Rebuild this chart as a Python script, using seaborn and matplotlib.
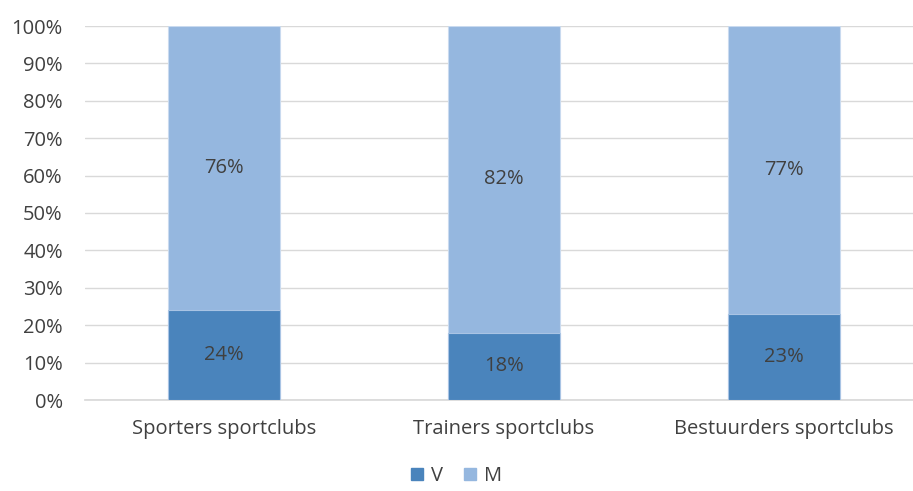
import matplotlib
matplotlib.use("Agg")
import matplotlib.pyplot as plt
import seaborn as sns
import pandas as pd
from matplotlib.patches import Patch

categories = ["Sporters sportclubs", "Trainers sportclubs", "Bestuurders sportclubs"]
v_values = [24, 18, 23]
m_values = [76, 82, 77]
y_ticks = [0, 10, 20, 30, 40, 50, 60, 70, 80, 90, 100]

sns.set_theme(style="white")
plt.rcParams['font.family'] = ['Open Sans', 'DejaVu Sans']

col_v = "#4A84BC"
col_m = "#95B7DF"
txt = "#404040"
fs = 14.5

df = pd.DataFrame({"cat": categories, "V": v_values, "M": m_values})
df["total"] = df["V"] + df["M"]

fig = plt.figure(figsize=(9.13, 4.91), dpi=100)
ax = fig.add_axes([85/913, 91/491, 828/913, 374/491])

sns.barplot(data=df, x="cat", y="total", color=col_m, width=0.40, ax=ax,
            saturation=1, edgecolor="#C9DAEF", linewidth=0.8, zorder=2)
sns.barplot(data=df, x="cat", y="V", color=col_v, width=0.40, ax=ax,
            saturation=1, edgecolor="#A9C4E4", linewidth=0.8, zorder=3)

for i, (v, m) in enumerate(zip(v_values, m_values)):
    ax.text(i, v / 2, f"{v}%", ha="center", va="center", fontsize=fs, color=txt, zorder=4)
    ax.text(i, v + m / 2, f"{m}%", ha="center", va="center", fontsize=fs, color=txt, zorder=4)

ax.set_xlim(-0.496, 2.46)
ax.set_ylim(0, 100)
ax.set_yticks(y_ticks)
ax.set_yticklabels([f"{t}%" for t in y_ticks], fontsize=fs, color=txt)
ax.set_xticks(range(len(categories)))
ax.set_xticklabels(categories, fontsize=fs, color=txt)
ax.tick_params(axis="x", length=0, pad=14)
ax.tick_params(axis="y", length=0, pad=16)
ax.set_xlabel("")
ax.set_ylabel("")
ax.yaxis.grid(True, color="#D9D9D9", linewidth=1)
ax.set_axisbelow(True)
for s in ["top", "right", "left"]:
    ax.spines[s].set_visible(False)
ax.spines["bottom"].set_color("#D9D9D9")

handles = [Patch(color=col_v, label="V"), Patch(color=col_m, label="M")]
fig.legend(handles=handles, loc="center", bbox_to_anchor=(0.5, 1 - 476/491),
           ncol=2, frameon=False, fontsize=fs, handlelength=0.6, handleheight=0.6,
           handletextpad=0.4, columnspacing=1.0, labelcolor=txt,
           borderaxespad=0, borderpad=0.1)

fig.savefig("out.png", dpi=100)
